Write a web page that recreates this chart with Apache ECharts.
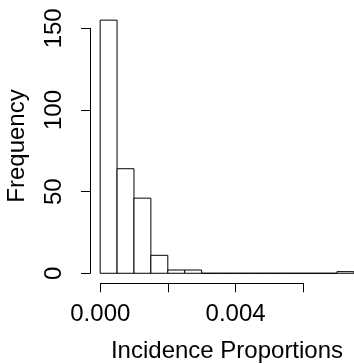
<!DOCTYPE html>
<html>
<head>
<meta charset="utf-8">
<script src="https://cdn.jsdelivr.net/npm/echarts@6/dist/echarts.min.js"></script>
<style>
  html, body { margin: 0; padding: 0; background: #fff; }
  #chart { width: 354px; height: 364px; }
</style>
</head>
<body>
<div id="chart"></div>
<script>
// histogram bins (width 0.0005) and counts
const binStarts = [0, 0.0005, 0.001, 0.0015, 0.002, 0.0025, 0.003, 0.0035,
  0.004, 0.0045, 0.005, 0.0055, 0.006, 0.0065, 0.007];
const binWidth = 0.0005;
const counts = [155, 64, 46, 11, 2, 2, 0, 0, 0, 0, 0, 0, 0, 0, 1];

const xTicks = [0, 0.002, 0.004, 0.006];
// R drops the labels that would overlap, only these two are printed
const xLabels = ['0.000', '0.004'];
const yTicks = [0, 50, 100, 150];

const histData = binStarts.map((s, i) => [s, s + binWidth, counts[i]]);

const chart = echarts.init(document.getElementById('chart'));
const FONT = '"Liberation Sans", Arial, Helvetica, sans-serif';

chart.setOption({
  animation: false,
  backgroundColor: '#fff',
  grid: [
    // plot region (R extends the range 4% on each side)
    { left: 90, top: 10, width: 274, height: 273.4, outerBoundsMode: 'none' },
    // x axis, drawn only from first to last tick
    { left: 100.3, top: 0, width: 203, height: 283.3, outerBoundsMode: 'none' },
    // y axis
    { left: 90, top: 28.3, width: 200, height: 245, outerBoundsMode: 'none' },
  ],
  xAxis: [
    { gridIndex: 0, type: 'value', min: -0.0003, max: 0.0078, show: false },
    {
      gridIndex: 1,
      type: 'value',
      min: xTicks[0],
      max: xTicks[xTicks.length - 1],
      interval: 0.002,
      position: 'bottom',
      axisLine: { show: true, lineStyle: { color: '#000', width: 1 } },
      axisTick: { show: true, inside: false, length: 9, lineStyle: { color: '#000' } },
      splitLine: { show: false },
      axisLabel: {
        show: true,
        margin: 19,
        color: '#000',
        fontSize: 24,
        fontFamily: FONT,
        formatter: (v) => {
          const s = v.toFixed(3);
          return xLabels.includes(s) ? s : '';
        },
      },
    },
    { gridIndex: 2, type: 'value', min: 0, max: 1, show: false },
  ],
  yAxis: [
    { gridIndex: 0, type: 'value', min: -6.2, max: 161.2, show: false },
    { gridIndex: 1, type: 'value', min: 0, max: 1, show: false },
    {
      gridIndex: 2,
      type: 'value',
      min: yTicks[0],
      max: yTicks[yTicks.length - 1],
      interval: 50,
      position: 'left',
      axisLine: { show: true, lineStyle: { color: '#000', width: 1 } },
      axisTick: { show: true, inside: false, length: 9, lineStyle: { color: '#000' } },
      splitLine: { show: false },
      axisLabel: {
        show: true,
        rotate: 90,
        margin: 24,
        color: '#000',
        fontSize: 24,
        fontFamily: FONT,
      },
    },
  ],
  graphic: [
    {
      type: 'text',
      x: 227,
      y: 351,
      style: {
        text: 'Incidence Proportions',
        font: '24px ' + FONT,
        fill: '#000',
        align: 'center',
        verticalAlign: 'middle',
      },
    },
    {
      type: 'text',
      x: 17,
      y: 146,
      rotation: Math.PI / 2,
      style: {
        text: 'Frequency',
        font: '24px ' + FONT,
        fill: '#000',
        align: 'center',
        verticalAlign: 'middle',
      },
    },
  ],
  series: [
    {
      type: 'custom',
      xAxisIndex: 0,
      yAxisIndex: 0,
      clip: false,
      data: histData,
      encode: { x: [0, 1], y: 2 },
      renderItem: function (params, api) {
        const topLeft = api.coord([api.value(0), api.value(2)]);
        const bottomRight = api.coord([api.value(1), 0]);
        return {
          type: 'rect',
          shape: {
            x: topLeft[0],
            y: topLeft[1],
            width: bottomRight[0] - topLeft[0],
            height: bottomRight[1] - topLeft[1],
          },
          style: { fill: '#fff', stroke: '#000', lineWidth: 1 },
        };
      },
    },
  ],
});
</script>
</body>
</html>
